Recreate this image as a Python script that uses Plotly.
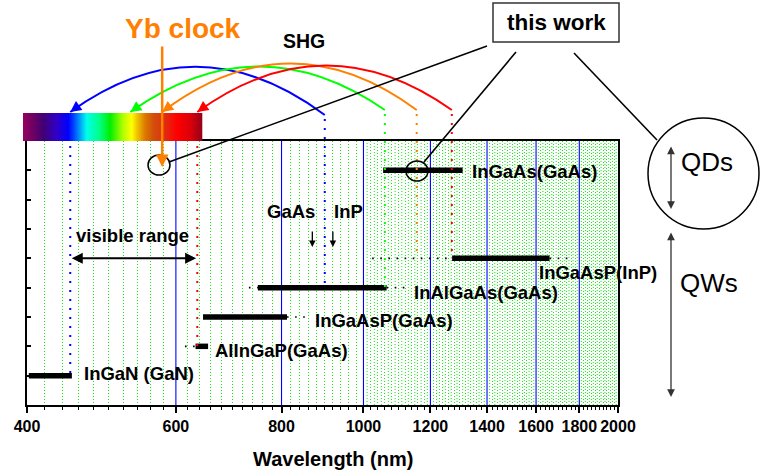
import numpy as np
import plotly.graph_objects as go

# ---------------- data ----------------
materials = ["InGaN (GaN)", "AlInGaP(GaAs)", "InGaAsP(GaAs)", "InAlGaAs(GaAs)", "InGaAsP(InP)", "InGaAs(GaAs)"]
levels = [1, 2, 3, 4, 5, 8]
bar_start = [402, 633, 646, 750, 1273, 1055]      # nm
bar_end = [452, 655, 812, 1065, 1660, 1310]       # nm
ext_start = [None, 615, None, 732, 1024, None]    # dotted extension (left)
ext_end = [None, None, 860, 1125, 1770, None]     # dotted extension (right)

shg_fund = [900, 1060, 1156, 1272]                # fundamental wavelengths (nm)
shg_colors = ["#0000ff", "#00ff00", "#ff8000", "#ff0000"]
shg_level = [4, 4, 5, 5]                          # where the dotted lines end
shg_inner = [450, 636]                            # SHG lines drawn inside the plot
shg_inner_colors = ["#0000ff", "#ff0000"]
shg_inner_level = [1, 2]

yb_clock = 578
substrate_names = ["GaAs", "InP"]
substrate_edges = [870, 920]
visible_range = [450, 634]

major_ticks = [400, 600, 800, 1000, 1200, 1400, 1600, 1800, 2000]
minor_ticks = [v for v in range(420, 2000, 20) if v % 200 != 0]
fine_grid = [v for v in range(1010, 2000, 20)]

# ---------------- geometry helpers ----------------
W, H = 760, 473
L, R, T, B = 27, 142, 141, 68
PW = W - L - R
PH = H - T - B
XMIN, XMAX = 400, 2000
YMIN, YMAX = 0, 9


def xp(lam):
    return (np.log10(lam) - np.log10(XMIN)) / (np.log10(XMAX) - np.log10(XMIN))


def xpix(lam):
    return L + xp(lam) * PW


def px(x):
    return (x - L) / PW


def py(y):
    return (H - B - y) / PH


def lv(v):
    return (v - YMIN) / (YMAX - YMIN)


FONT = "Arial, 'Liberation Sans', sans-serif"
GRID_GREEN = "#10ee10"

fig = go.Figure()

# extra fine green grid above 1000 nm
gx, gy = [], []
for v in fine_grid:
    gx += [v, v, None]
    gy += [YMIN, YMAX, None]
fig.add_trace(go.Scatter(x=gx, y=gy, mode="lines", hoverinfo="skip",
                         line=dict(color=GRID_GREEN, width=1, dash="1px,2px")))

# blue major grid lines
bx, by = [], []
for v in major_ticks[1:-1]:
    bx += [v, v, None]
    by += [YMIN, YMAX, None]
fig.add_trace(go.Scatter(x=bx, y=by, mode="lines", hoverinfo="skip",
                         line=dict(color="#0000ff", width=1.1)))

# bars
for name, lvl, s, e, es, ee in zip(materials, levels, bar_start, bar_end, ext_start, ext_end):
    if es is not None:
        fig.add_trace(go.Scatter(x=[es, s], y=[lvl, lvl], mode="lines", hoverinfo="skip",
                                 line=dict(color="black", width=1.6, dash="1.6px,6.5px")))
    if ee is not None:
        fig.add_trace(go.Scatter(x=[e, ee], y=[lvl, lvl], mode="lines", hoverinfo="skip",
                                 line=dict(color="black", width=1.6, dash="1.6px,6.5px")))
    fig.add_trace(go.Scatter(x=[s, e], y=[lvl, lvl], mode="lines", name=name,
                             line=dict(color="black", width=5.5)))

shapes = []
annos = []


def text(xpx, ypx, txt, size, color="black", anchor="center"):
    annos.append(dict(x=px(xpx), y=py(ypx), xref="paper", yref="paper", text=txt,
                      xanchor=anchor, yanchor="middle", showarrow=False,
                      font=dict(size=size, color=color, family=FONT)))


# spectrum bar
stops = [(0.0, (150, 0, 95)), (0.058, (110, 0, 100)), (0.114, (65, 0, 115)), (0.188, (50, 0, 200)),
         (0.254, (0, 0, 255)), (0.30, (0, 110, 255)), (0.356, (0, 255, 235)), (0.43, (0, 255, 130)),
         (0.487, (0, 240, 0)), (0.56, (180, 255, 0)), (0.608, (255, 255, 0)), (0.636, (240, 200, 0)),
         (0.683, (220, 120, 0)), (0.729, (210, 80, 10)), (0.785, (222, 50, 20)), (0.86, (255, 0, 0)),
         (0.935, (220, 0, 10)), (1.0, (150, 0, 25))]
sx0, sx1, sy0, sy1 = 23, 202, 113, 141
sf = [s[0] for s in stops]
for i in range(sx1 - sx0):
    f = (i + 0.5) / (sx1 - sx0)
    c = [int(np.interp(f, sf, [s[1][k] for s in stops])) for k in range(3)]
    shapes.append(dict(type="rect", xref="paper", yref="paper",
                       x0=px(sx0 + i), x1=px(sx0 + i + 1.3), y0=py(sy1), y1=py(sy0),
                       fillcolor=f"rgb({c[0]},{c[1]},{c[2]})", line=dict(width=0), layer="above"))

# SHG arcs and dotted lines
arc_start_y = [115, 110, 110, 110]
arc_ctrl_y = [20, 22, 16, 20]
for lam, col, lvl, ys, cy in zip(shg_fund, shg_colors, shg_level, arc_start_y, arc_ctrl_y):
    x0 = xpix(lam)
    x1 = xpix(lam / 2)
    y1 = 112
    cx = (x0 + x1) / 2
    shapes.append(dict(type="path", xref="paper", yref="paper",
                       path=f"M {px(x0)},{py(ys)} Q {px(cx)},{py(cy)} {px(x1)},{py(y1)}",
                       line=dict(color=col, width=2)))
    dx, dy = cx - x1, cy - y1
    n = np.hypot(dx, dy)
    annos.append(dict(x=px(x1), y=py(y1), xref="paper", yref="paper", text="",
                      showarrow=True, ax=dx / n * 12, ay=dy / n * 12, arrowhead=2,
                      arrowsize=1.1, arrowwidth=2, arrowcolor=col))
    shapes.append(dict(type="line", xref="paper", yref="paper", x0=xp(lam), x1=xp(lam),
                       y0=py(ys + 4), y1=lv(lvl), line=dict(color=col, width=2, dash="2px,7px")))

for lam, col, lvl in zip(shg_inner, shg_inner_colors, shg_inner_level):
    shapes.append(dict(type="line", xref="paper", yref="paper", x0=xp(lam), x1=xp(lam),
                       y0=py(146), y1=lv(lvl), line=dict(color=col, width=2, dash="2px,7px")))

# Yb clock line
annos.append(dict(x=xp(yb_clock), y=py(167), xref="paper", yref="paper", text="", showarrow=True,
                  ax=0, ay=-122, arrowhead=2, arrowsize=1.0, arrowwidth=2.5, arrowcolor="#ff8000"))
text(183, 28, "<b>Yb clock</b>", 28, "#ff8000")
text(304, 41, "<b>SHG</b>", 19.5)

# this work box
shapes.append(dict(type="rect", xref="paper", yref="paper", x0=px(493), x1=px(619), y0=py(42), y1=py(3),
                   line=dict(color="#333333", width=1.5), fillcolor="white"))
text(556, 23, "<b>this work</b>", 22.5)

# circles
shapes.append(dict(type="circle", xref="paper", yref="paper", x0=px(148), x1=px(170), y0=py(175), y1=py(155),
                   line=dict(color="black", width=1.5)))
shapes.append(dict(type="circle", xref="paper", yref="paper", x0=px(406), x1=px(428), y0=py(181), y1=py(161),
                   line=dict(color="black", width=1.5)))
shapes.append(dict(type="circle", xref="paper", yref="paper", x0=px(648), x1=px(759), y0=py(229), y1=py(118),
                   line=dict(color="black", width=1.5)))

# pointer lines
for (a, b, c, d) in [(487, 46, 169, 162), (516, 52, 424, 162), (574, 53, 657, 140)]:
    shapes.append(dict(type="line", xref="paper", yref="paper", x0=px(a), y0=py(b), x1=px(c), y1=py(d),
                       line=dict(color="black", width=1.6)))

# QDs / QWs arrows
for (ytop, ybot) in [(145, 209), (231, 397)]:
    annos.append(dict(x=px(671), y=py(ybot), xref="paper", yref="paper", text="", showarrow=True,
                      ax=0, ay=-(ybot - ytop), arrowhead=2, startarrowhead=2, arrowside="end+start",
                      arrowsize=1.2, startarrowsize=1.2, arrowwidth=1.3, arrowcolor="#333333"))
text(679, 162, "QDs", 26, anchor="left")
text(678, 283, "QWs", 26, anchor="left")

# visible range
annos.append(dict(x=xp(visible_range[1]), y=lv(5), xref="paper", yref="paper", text="", showarrow=True,
                  ax=-(xpix(visible_range[1]) - xpix(visible_range[0])), ay=0, arrowhead=2,
                  startarrowhead=2, arrowside="end+start", arrowsize=1.1, startarrowsize=1.1,
                  arrowwidth=2, arrowcolor="black"))
text(74, 235, "<b>visible range</b>", 18.5, anchor="left")

# substrate arrows
for nm, lam, anchor, dxl in zip(substrate_names, substrate_edges, ["right", "left"], [5, -1]):
    annos.append(dict(x=xp(lam), y=py(247), xref="paper", yref="paper", text="", showarrow=True,
                      ax=0, ay=-17, arrowhead=2, arrowsize=1, arrowwidth=1.3, arrowcolor="black"))
    text(xpix(lam) + dxl, 211, f"<b>{nm}</b>", 18.5, anchor=anchor)

# material labels
label_pos = [(82, 373), (213, 350), (313, 320), (412, 292), (537, 272), (470, 171)]
for name, (lx, ly) in zip(materials, label_pos):
    text(lx, ly, f"<b>{name}</b>", 18.5, anchor="left")

# axis title
text(333, 459, "<b>Wavelength (nm)</b>", 20)

fig.update_layout(
    width=W, height=H, margin=dict(l=L, r=R, t=T, b=B, pad=0, autoexpand=False),
    paper_bgcolor="white", plot_bgcolor="white", showlegend=False,
    font=dict(family=FONT, color="black"),
    shapes=shapes, annotations=annos,
)
fig.update_xaxes(
    type="log", range=[np.log10(XMIN), np.log10(XMAX)],
    tickmode="array", tickvals=major_ticks, ticktext=[f"<b>{v}</b>" for v in major_ticks],
    tickfont=dict(size=16, family=FONT, color="black"), tickangle=0,
    ticks="outside", ticklen=6, tickwidth=1.5, tickcolor="black",
    showline=True, linecolor="black", linewidth=1.5, mirror=True,
    showgrid=False, zeroline=False,
    minor=dict(tickmode="array", tickvals=minor_ticks, ticks="outside", ticklen=3, tickwidth=1,
               tickcolor="black", showgrid=True, gridcolor=GRID_GREEN, griddash="1px,2px", gridwidth=1),
)
fig.update_yaxes(
    range=[YMIN, YMAX], tickmode="array", tickvals=list(range(1, 9)), showticklabels=False,
    ticks="inside", ticklen=4, tickwidth=1.5, tickcolor="black",
    showline=True, linecolor="black", linewidth=1.5, mirror=True,
    showgrid=False, zeroline=False,
)

fig.write_html("out.html")
